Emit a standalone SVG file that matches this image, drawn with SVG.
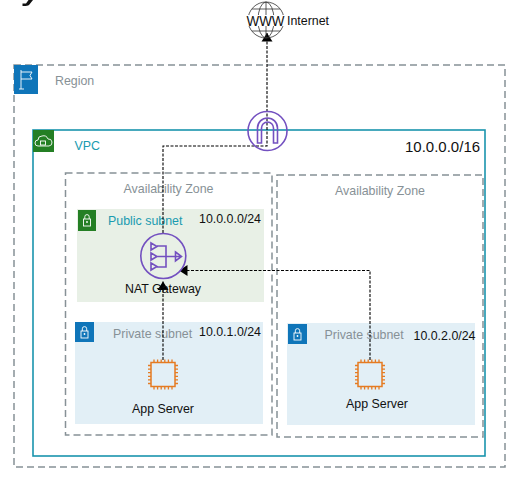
<svg xmlns="http://www.w3.org/2000/svg" width="519" height="481" viewBox="0 0 519 481">
<style>
text{font-family:"Liberation Sans",Arial,sans-serif;font-size:12.400px;fill:#111}
.g{fill:#879196}
.t{fill:#1a9bb0}
.grp{fill:none;stroke:#879196;stroke-width:1.5;stroke-dasharray:7 4}
.ic{fill:none;stroke:#fff;stroke-width:.9}
.c{fill:none;stroke:#000;stroke-width:1.100;stroke-dasharray:3 1.500}
.p{fill:none;stroke:#7350c0;stroke-width:1.6}
.o{fill:none;stroke:#e57b22;stroke-width:1.3}
.w{fill:none;stroke:#333;stroke-width:.8}
</style>
<defs>
<marker id="a" markerUnits="userSpaceOnUse" markerWidth="11" markerHeight="12" refX="8.500" refY="6" orient="auto"><path d="M0 0.500L8.500 6L0 11.500Z" fill="#000"/></marker>
<g id="lock"><rect x="-3.500" y="-1" width="7" height="7" class="ic"/><path d="M-2.200-1v-2.200a2.200 2.200 0 0 1 4.400 0V-1" class="ic"/><circle cy="2" r=".9" fill="#fff"/></g>
<g id="chip"><rect x="-12" y="-12" width="24" height="24" fill="none" stroke="#e57b22" stroke-width="1.5"/><path class="o" d="M-9-12v-3M-5.400-12v-3M-1.800-12v-3M1.800-12v-3M5.400-12v-3M9-12v-3M-9 12v3M-5.400 12v3M-1.800 12v3M1.800 12v3M5.400 12v3M9 12v3M-12-9h-3M-12-5.400h-3M-12-1.800h-3M-12 1.800h-3M-12 5.400h-3M-12 9h-3M12-9h3M12-5.400h3M12-1.800h3M12 1.800h3M12 5.400h3M12 9h3"/></g>
</defs>
<path d="M22.500 3.500L26 3.500L28.500 0H33L29 5C27.500 6 25 6.300 22.500 6Z" fill="#111"/>
<g id="region"><rect x="14" y="65" width="491" height="402" class="grp"/><rect x="14" y="65" width="24" height="29" fill="#0f75b9"/><path class="ic" d="M21 70v19M19 89h5M21 72h11l-2 3.500 2 3.500H21"/><text x="55" y="85" class="g">Region</text></g>
<g id="vpc"><rect x="33" y="130" width="452" height="326" fill="none" stroke="#1a94ad" stroke-width="1.6"/><rect x="33" y="130" width="21" height="22" fill="#247f24"/><path class="ic" d="M38 146a3 3 0 0 1 0-6a4 4 0 0 1 4-4a5 5 0 0 1 6 3a3.500 3.500 0 0 1 1 7Z"/><rect x="40.500" y="141" width="5" height="4" class="ic"/><text x="74.500" y="150" class="t">VPC</text><text x="405" y="151.500" style="font-size:15px">10.0.0.0/16</text></g>
<g id="az1"><rect x="65.500" y="173" width="206.500" height="262" class="grp"/><text x="123.500" y="193" class="g">Availability Zone</text></g>
<g id="az2"><rect x="277" y="175" width="206" height="262" class="grp"/><text x="335" y="195" class="g">Availability Zone</text></g>
<g id="public-subnet"><rect x="77" y="209" width="187" height="93" fill="#e8f0e6"/><rect x="78" y="210" width="18" height="21" fill="#247f24"/><use href="#lock" x="87" y="220"/><text x="108" y="225" class="t">Public subnet</text><text x="199" y="223">10.0.0.0/24</text></g>
<g id="private-subnet-1"><rect x="75" y="322" width="188" height="102" fill="#e2eff6"/><rect x="75" y="322" width="19" height="20" fill="#0f75b9"/><use href="#lock" x="84.500" y="332"/><text x="113" y="338" class="g">Private subnet</text><text x="199" y="336">10.0.1.0/24</text></g>
<g id="private-subnet-2"><rect x="287" y="323" width="188" height="102" fill="#e2eff6"/><rect x="288" y="324" width="19" height="20" fill="#0f75b9"/><use href="#lock" x="297.500" y="334"/><text x="324.500" y="339" class="g">Private subnet</text><text x="413.500" y="340">10.0.2.0/24</text></g>
<g id="connectors">
<path class="c" d="M163 360V281.500" marker-end="url(#a)"/>
<path class="c" d="M370 360V270.500H179" marker-end="url(#a)"/>
<path class="c" d="M163 233V146H267V33" marker-end="url(#a)"/>
</g>
<g id="internet"><circle cx="266" cy="20" r="18" class="w"/><ellipse cx="266" cy="20" rx="8" ry="18" class="w"/><path class="w" d="M266 2V38M252 9H280M252 31H280"/><rect x="247" y="15" width="38" height="11" fill="#fff"/><text x="246.500" y="26" textLength="38" lengthAdjust="spacingAndGlyphs" style="font-size:15px">WWW</text><text x="287" y="25">Internet</text></g>
<g id="igw"><circle cx="267.500" cy="131" r="19.500" fill="none" stroke="#7350c0" stroke-width="1.6"/><path class="p" d="M257.500 143V128a10 10 0 0 1 20 0V143H273.500V128a6 6 0 0 0-12 0V143Z"/></g>
<g id="nat"><circle cx="163.300" cy="256" r="22.500" fill="#e8f0e6" stroke="#7350c0" stroke-width="1.6"/><path class="p" d="M151 243l6 3.500-6 3.500ZM151 253l6 3.500-6 3.500ZM151 263l6 3.500-6 3.500ZM157 246H166V267H157M157 256.500H181M175.500 252l6 4.500-6 4.500Z"/><text x="125" y="293">NAT Gateway</text></g>
<g id="app1"><use href="#chip" x="163" y="374.500"/><text x="132" y="413">App Server</text></g>
<g id="app2"><use href="#chip" x="370" y="374.500"/><text x="346" y="408">App Server</text></g>
</svg>
